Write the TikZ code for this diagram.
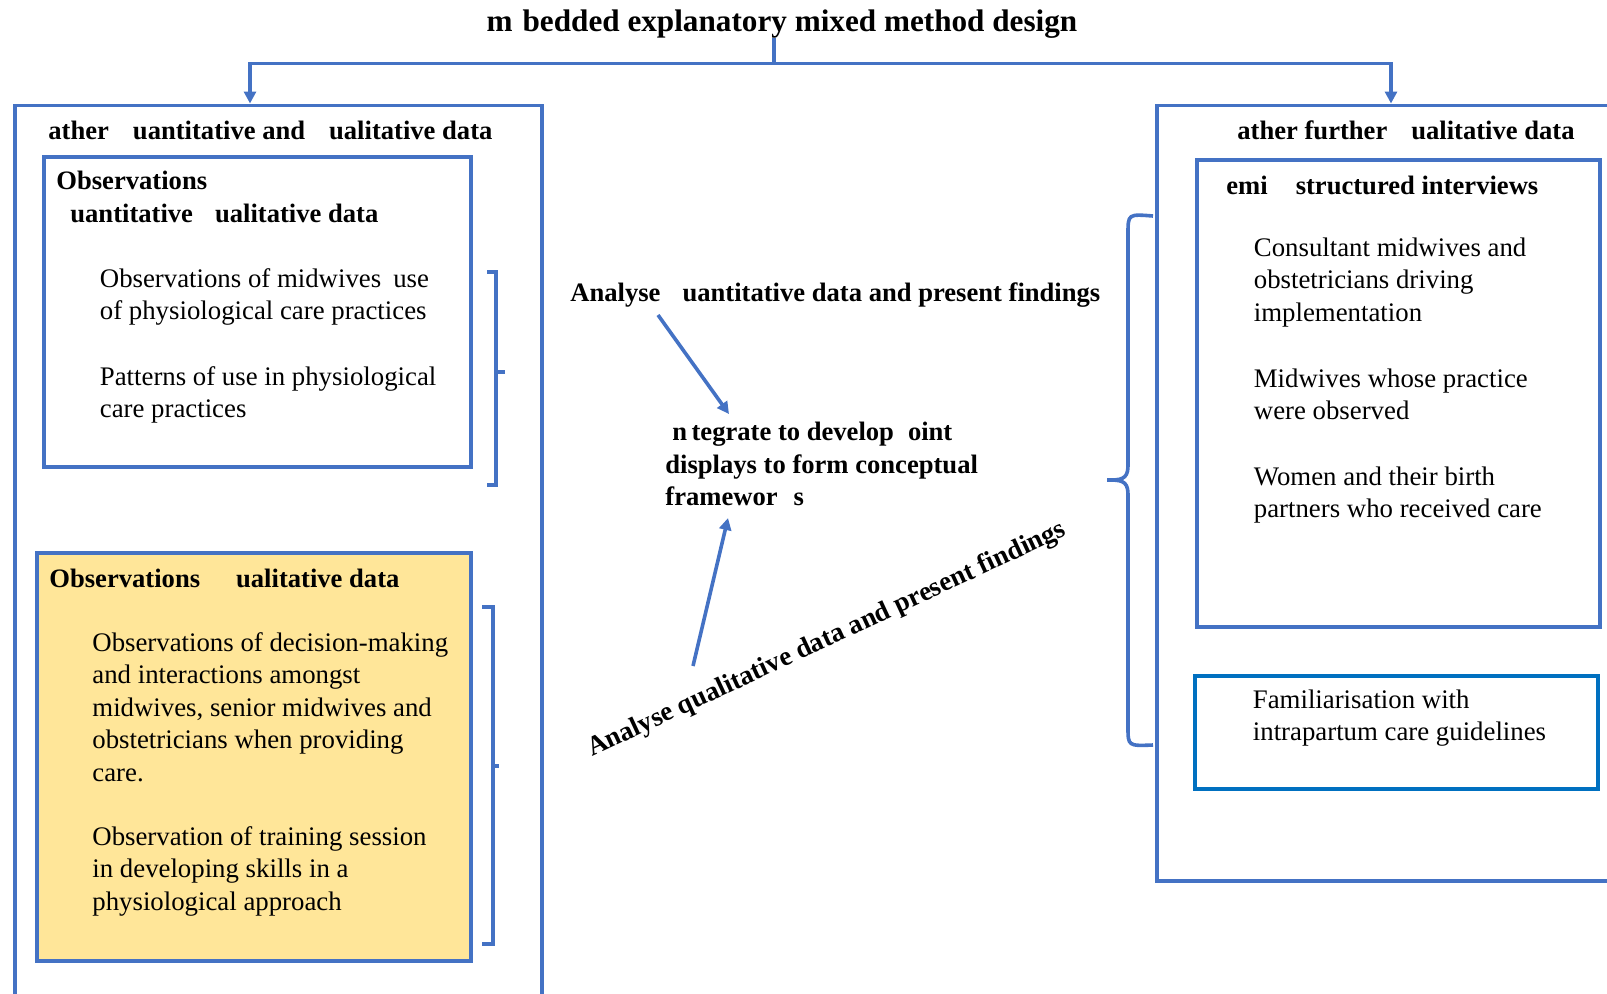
\documentclass[tikz,border=0pt]{standalone}
\usepackage{fontspec}
\setmainfont{Liberation Serif}
\usetikzlibrary{arrows.meta, positioning}
\definecolor{linkblue}{HTML}{4472C4}
\definecolor{guideblue}{HTML}{0070C0}
\definecolor{obsyellow}{HTML}{FFE699}

\begin{document}
\begin{tikzpicture}[x=0.5pt,y=-0.5pt,>={Triangle[length=6pt,width=6pt]},
  frame/.style={draw=linkblue, line width=1.8pt, anchor=north west, inner sep=0pt},
  link/.style={draw=linkblue, line width=1.8pt},
  arr/.style={link, ->},
  txt/.style={inner sep=0pt, anchor=north west, align=left, font=\fontsize{13.4}{16.25}\selectfont},
  head/.style={txt, anchor=west, font=\fontsize{13.3}{16.5}\selectfont\bfseries}]

  \useasboundingbox (0,0) rectangle (1607,993);

  % title and split
  \node[font=\fontsize{15.6}{18}\selectfont\bfseries, inner sep=0pt] (title) at (782,24)
    {m\hspace{5pt}bedded explanatory mixed method design};
  \coordinate (titlefoot) at (774,38);
  \coordinate (split) at (774,63.5);
  \coordinate (toquant) at (250,103.5);
  \coordinate (toqual) at (1391,103.5);
  \draw[link] (titlefoot) -- (split);
  \draw[arr] (split) -| (toquant);
  \draw[arr] (split) -| (toqual);

  % left panel
  \node[frame, minimum width=263.5pt, minimum height=450pt] (gatherL) at (13,103.5) {};
  \node[head] (gatherLtitle) at (48,130) {ather\hspace{12pt}uantitative and\hspace{12pt}ualitative data};
  \node[frame, minimum width=213.5pt, minimum height=155pt] (quantbox) at (42,155) {};
  \node[head, anchor=north west] (quanttitle) at (56,171)
    {Observations\\\hspace{7pt}uantitative\hspace{11pt}ualitative data};
  \node[txt] (obsuse) at (99.5,268) {Observations of midwives\hspace{6pt}use\\of physiological care practices};
  \node[txt] (patterns) at (99.5,366) {Patterns of use in physiological\\care practices};
  \draw[link] (487,272) -- (496,272) -- (496,485) -- (487,485);
  \draw[link] (496,372) -- (505,372);

  \node[frame, fill=obsyellow, minimum width=217pt, minimum height=204pt] (qualbox) at (35,551) {};
  \node[head] (qualtitle) at (49,578) {Observations\hspace{18pt}ualitative data};
  \node[txt] (decisions) at (92,632) {Observations of decision-making\\and interactions amongst\\midwives, senior midwives and\\obstetricians when providing\\care.};
  \node[txt] (training) at (92,826) {Observation of training session\\in developing skills in a\\physiological approach};
  \draw[link] (482,607) -- (493,607) -- (493,944) -- (482,944);
  \draw[link] (493,766) -- (499,766);

  % middle
  \node[head] (anaquant) at (570,295) {Analyse\hspace{11pt}uantitative data and present findings};
  \node[txt, font=\fontsize{13.3}{16.25}\selectfont\bfseries] (integrate) at (665,422)
    {\hspace{3.5pt}n\,tegrate to develop\hspace{7pt}oint\\displays to form conceptual\\framewor\hspace{8pt}s};
  \node[inner sep=0pt, rotate=25, font=\fontsize{13.6}{16}\selectfont\bfseries] (anaqual) at (827,640)
    {Analyse qualitative data and present findings};
  \coordinate (qstart) at (658,315);
  \coordinate (qend) at (729,414);
  \coordinate (lstart) at (693,666);
  \coordinate (lend) at (728,518);
  \draw[arr] (qstart) -- (qend);
  \draw[arr] (lstart) -- (lend);

  % right panel
  \node[frame, minimum width=240pt, minimum height=387.75pt] (gatherR) at (1155,103.5) {};
  \node[head] (gatherRtitle) at (1237,130) {ather further\hspace{12pt}ualitative data};
  \node[frame, minimum width=201.5pt, minimum height=233.5pt] (interviews) at (1195,158) {};
  \node[head] (intertitle) at (1226,185) {emi\hspace{14pt}structured interviews};
  \node[txt] (consultants) at (1253.5,237) {Consultant midwives and\\obstetricians driving\\implementation};
  \node[txt] (midwives) at (1253.5,368) {Midwives whose practice\\were observed};
  \node[txt] (women) at (1253.5,466) {Women and their birth\\partners who received care};
  \node[frame, draw=guideblue, minimum width=201.5pt, minimum height=56.5pt] (guides) at (1193,674) {};
  \node[txt] (guidetext) at (1252.5,689) {Familiarisation with\\intrapartum care guidelines};
  \draw[link] (1153,216) .. controls (1128,214) .. (1128,234) -- (1128,466)
    .. controls (1128,480) and (1120,480) .. (1107,480)
    .. controls (1120,480) and (1128,480) .. (1128,494) -- (1128,727)
    .. controls (1128,746) .. (1153,745);
\end{tikzpicture}
\end{document}
